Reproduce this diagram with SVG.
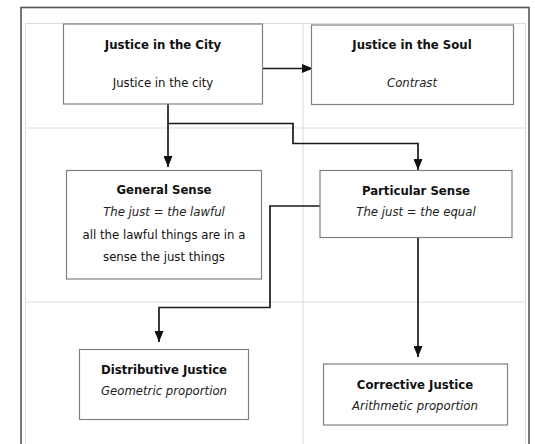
<svg xmlns="http://www.w3.org/2000/svg" width="535" height="444" viewBox="0 0 535 444">
<defs>
<marker id="ah" markerWidth="11" markerHeight="9" refX="11" refY="4.5" orient="auto" markerUnits="userSpaceOnUse">
<path d="M0,0 L11,4.5 L0,9 Z" fill="#111"/>
</marker>
<style>
.box{fill:#fff;stroke:#808080;stroke-width:1.2}
.grid{fill:none;stroke:#dcdcdc;stroke-width:1}
.frame{fill:#fff;stroke:#555;stroke-width:1.6}
.t{font-family:"DejaVu Sans Condensed","DejaVu Sans",sans-serif;font-size:13px;fill:#111;text-anchor:middle}
.b{font-weight:bold}
.i{font-style:italic;fill:#222}
.c{fill:none;stroke:#1a1a1a;stroke-width:1.7}
</style>
</defs>
<rect x="0" y="0" width="535" height="444" fill="#fff"/>
<rect class="frame" x="21" y="7.5" width="508" height="450"/>
<g id="grid">
<rect class="grid" x="25.5" y="23.5" width="500" height="430"/>
<line class="grid" x1="25.5" y1="128" x2="525.5" y2="128"/>
<line class="grid" x1="25.5" y1="302" x2="525.5" y2="302"/>
<line class="grid" x1="303" y1="23.5" x2="303" y2="453"/>
</g>
<g id="connectors">
<path class="c" d="M263,68.5 H313" marker-end="url(#ah)"/>
<path class="c" d="M168,104 V167" marker-end="url(#ah)"/>
<path class="c" d="M168,123.5 H293 V143.5 H418 V170" marker-end="url(#ah)"/>
<path class="c" d="M320,206 H270 V307.5 H159 V342" marker-end="url(#ah)"/>
<path class="c" d="M418,237.5 V357" marker-end="url(#ah)"/>
</g>
<g id="city">
<rect class="box" x="63.5" y="24" width="199" height="80"/>
<text class="t b" x="163" y="48.5">Justice in the City</text>
<text class="t" x="163" y="86.5">Justice in the city</text>
</g>
<g id="soul">
<rect class="box" x="311.5" y="25" width="202" height="79.5"/>
<text class="t b" x="412" y="48.5">Justice in the Soul</text>
<text class="t i" x="412" y="86.5">Contrast</text>
</g>
<g id="general">
<rect class="box" x="66.5" y="170.5" width="195" height="108.5"/>
<text class="t b" x="164" y="193.8">General Sense</text>
<text class="t i" x="164" y="216">The just = the lawful</text>
<text class="t" x="164" y="238.8">all the lawful things are in a</text>
<text class="t" x="164" y="260.5">sense the just things</text>
</g>
<g id="particular">
<rect class="box" x="320" y="170.5" width="192" height="67"/>
<text class="t b" x="416" y="194.5">Particular Sense</text>
<text class="t i" x="416" y="216">The just = the equal</text>
</g>
<g id="distributive">
<rect class="box" x="79.5" y="349.5" width="169" height="70"/>
<text class="t b" x="164" y="373.8">Distributive Justice</text>
<text class="t i" x="164" y="395">Geometric proportion</text>
</g>
<g id="corrective">
<rect class="box" x="323.5" y="364" width="184" height="61"/>
<text class="t b" x="415" y="388.5">Corrective Justice</text>
<text class="t i" x="415" y="410">Arithmetic proportion</text>
</g>
</svg>
